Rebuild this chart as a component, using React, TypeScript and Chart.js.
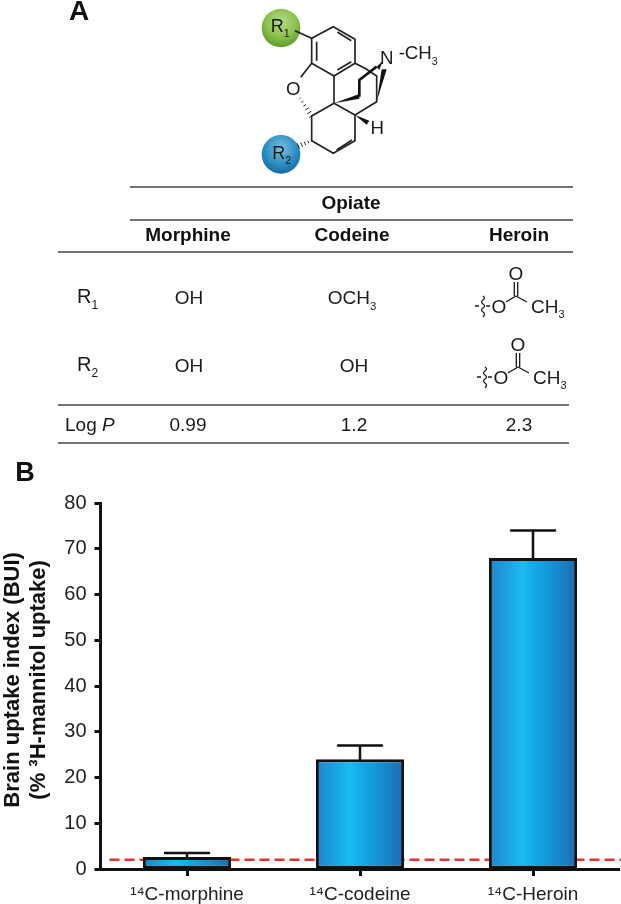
import React, { useEffect, useRef } from "react";
import { Chart, registerables } from "chart.js";

Chart.register(...registerables);

const FONT = '"Liberation Sans", Arial, sans-serif';

const categories = ["¹⁴C-morphine", "¹⁴C-codeine", "¹⁴C-Heroin"];
const uptake = [2.6, 24, 68];
const errorTop = [3.5, 27, 74];
const mannitolBaseline = 2;
const yTitle = ["Brain uptake index (BUI)", "(% ³H-mannitol uptake)"];

const opiates = ["Morphine", "Codeine", "Heroin"];
const logP = ["0.99", "1.2", "2.3"];

function barGradient(c: any) {
  const chart = c.chart;
  const x = chart.scales.x;
  const i = c.dataIndex;
  if (!x || typeof i !== "number") return "#1ab0ea";
  const cx = x.getPixelForValue(i);
  if (!Number.isFinite(cx)) return "#1ab0ea";
  const half = 44;
  const g = chart.ctx.createLinearGradient(cx - half, 0, cx + half, 0);
  g.addColorStop(0, "#1e84ca");
  g.addColorStop(0.38, "#1abbf2");
  g.addColorStop(0.55, "#12a6e4");
  g.addColorStop(1, "#1b6cb2");
  return g;
}

const overlays = {
  id: "overlays",
  beforeDatasetsDraw(chart: any) {
    const { ctx, chartArea, scales } = chart;
    const y = scales.y.getPixelForValue(mannitolBaseline);
    ctx.save();
    ctx.strokeStyle = "#e2352f";
    ctx.lineWidth = 2.5;
    ctx.setLineDash([10, 5]);
    ctx.beginPath();
    ctx.moveTo(chartArea.left + 9, y);
    ctx.lineTo(chartArea.right + 2, y);
    ctx.stroke();
    ctx.restore();
  },
  afterDatasetsDraw(chart: any) {
    const { ctx, scales } = chart;
    ctx.save();
    ctx.strokeStyle = "#111";
    ctx.lineWidth = 2.5;
    ctx.lineCap = "round";
    uptake.forEach((v, i) => {
      const x = scales.x.getPixelForValue(i);
      const y0 = scales.y.getPixelForValue(v);
      const y1 = scales.y.getPixelForValue(errorTop[i]);
      ctx.beginPath();
      ctx.moveTo(x, y0);
      ctx.lineTo(x, y1);
      ctx.moveTo(x - 22, y1);
      ctx.lineTo(x + 22, y1);
      ctx.stroke();
    });
    ctx.restore();
  },
};

function Sub({ x, y, text, sub, size = 19, anchor = "middle" }: any) {
  return (
    <text x={x} y={y} fontSize={size} textAnchor={anchor} fontFamily={FONT} fill="#1a1a1a">
      {text}
      {sub ? (
        <tspan fontSize={size * 0.6} dy={size * 0.3}>
          {sub}
        </tspan>
      ) : null}
    </text>
  );
}

function Acetyl({ dx, dy }: { dx: number; dy: number }) {
  return (
    <g transform={`translate(${dx},${dy})`}>
      <text x={516} y={280} fontSize={19} textAnchor="middle" fontFamily={FONT} fill="#1a1a1a">O</text>
      <text x={499} y={313} fontSize={19} textAnchor="middle" fontFamily={FONT} fill="#1a1a1a">O</text>
      <text x={531} y={313} fontSize={19} fontFamily={FONT} fill="#1a1a1a">
        CH<tspan fontSize={11} dy={5}>3</tspan>
      </text>
      <path d="M514.3 282 V296 M517.7 282 V296 M516 296 L506 302 M516 296 L527 302" stroke="#1a1a1a" strokeWidth={1.3} fill="none" />
      <path d="M475 306 H479 M486 306 H490 M483 296 q3 2 0 4 q-3 2 0 4 q3 2 0 4 q-3 2 0 4 q3 2 0 5" stroke="#1a1a1a" strokeWidth={1.3} fill="none" />
    </g>
  );
}

function Molecule() {
  const hash = (x0: number, y0: number, x1: number, y1: number, n: number) => {
    const out = [];
    for (let i = 0; i < n; i++) {
      const t = i / (n - 1);
      const x = x0 + (x1 - x0) * t;
      const y = y0 + (y1 - y0) * t;
      const w = 2 + t * 7;
      const nx = -(y1 - y0);
      const ny = x1 - x0;
      const l = Math.hypot(nx, ny);
      out.push(
        <line key={i} x1={x - (nx / l) * w} y1={y - (ny / l) * w} x2={x + (nx / l) * w} y2={y + (ny / l) * w} stroke="#222" strokeWidth={3} />
      );
    }
    return out;
  };
  return (
    <svg style={{ position: "absolute", left: 200, top: 0 }} width={260} height={190} viewBox="0 0 780 570">
      <defs>
        <radialGradient id="gr" cx="0.5" cy="0.35" r="0.65">
          <stop offset="0" stopColor="#b7d98c" />
          <stop offset="0.6" stopColor="#8cc04e" />
          <stop offset="1" stopColor="#5c9a2c" />
        </radialGradient>
        <radialGradient id="bl" cx="0.5" cy="0.35" r="0.65">
          <stop offset="0" stopColor="#7fc0e0" />
          <stop offset="0.6" stopColor="#2f8fc4" />
          <stop offset="1" stopColor="#176ca6" />
        </radialGradient>
      </defs>
      <circle cx={243} cy={84} r={58} fill="url(#gr)" />
      <circle cx={243} cy={463} r={58} fill="url(#bl)" />
      <g stroke="#222" strokeWidth={5} fill="none">
        <path d="M285 92 L335 115 L400 80 L465 118 L465 190 L402 228 L335 190 L335 115" />
        <path d="M412 96 L454 122 M454 185 L412 210 M350 125 V182" />
        <path d="M335 190 L302 232 M402 228 V310 L335 348 V422 L400 460 L465 422 V345 L402 310" />
        <path d="M410 450 L456 420" />
        <path d="M465 345 L530 305 V228 L495 205 L465 190" />
      </g>
      <g stroke="#111" strokeWidth={8} fill="none" strokeLinejoin="round">
        <path d="M478 290 V240 L530 200" />
      </g>
      <polygon points="402,310 478,282 478,296" fill="#111" />
      <polygon points="530,200 548,183 538,210" fill="#111" />
      <polygon points="465,345 508,362 500,374" fill="#111" />
      <polygon points="530,305 545,208 560,208" fill="#111" />
      {hash(300, 295, 335, 348, 6)}
      {hash(335, 422, 295, 438, 5)}
      <text x={280} y={286} fontSize={56} textAnchor="middle" fontFamily={FONT} fill="#1a1a1a">O</text>
      <text x={532} y={403} fontSize={56} textAnchor="middle" fontFamily={FONT} fill="#1a1a1a">H</text>
      <text x={560} y={192} fontSize={56} textAnchor="middle" fontFamily={FONT} fill="#1a1a1a">N</text>
      <text x={596} y={178} fontSize={56} fontFamily={FONT} fill="#1a1a1a">
        -CH<tspan fontSize={32} dy={16}>3</tspan>
      </text>
      <text x={212} y={97} fontSize={54} fontFamily={FONT} fill="#1a1a1a">
        R<tspan fontSize={32} dy={14}>1</tspan>
      </text>
      <text x={217} y={477} fontSize={54} fontFamily={FONT} fill="#1a1a1a">
        R<tspan fontSize={32} dy={14}>2</tspan>
      </text>
    </svg>
  );
}

function TableA() {
  const rules = [
    [130, 187, 573],
    [130, 220, 573],
    [58, 252, 573],
    [58, 405, 569],
    [58, 443, 569],
  ];
  const cols = [188, 352, 519];
  return (
    <svg style={{ position: "absolute", left: 0, top: 0 }} width={621} height={490}>
      {rules.map(([a, y, b], i) => (
        <line key={i} x1={a} x2={b} y1={y} y2={y} stroke="#444" strokeWidth={1.4} />
      ))}
      <text x={351} y={209} fontSize={19} fontWeight="bold" textAnchor="middle" fontFamily={FONT} fill="#111">Opiate</text>
      {opiates.map((o, i) => (
        <text key={o} x={cols[i]} y={241} fontSize={19} fontWeight="bold" textAnchor="middle" fontFamily={FONT} fill="#111">{o}</text>
      ))}
      <text x={79} y={20} fontSize={28} fontWeight="bold" fontFamily={FONT} fill="#111" textAnchor="middle">A</text>
      <text x={25} y={481} fontSize={27} fontWeight="bold" fontFamily={FONT} fill="#111" textAnchor="middle">B</text>
      <Sub x={77} y={303} text="R" sub="1" size={20} anchor="start" />
      <Sub x={77} y={371} text="R" sub="2" size={20} anchor="start" />
      <Sub x={189} y={304} text="OH" />
      <Sub x={352} y={304} text="OCH" sub="3" />
      <Sub x={189} y={372} text="OH" />
      <Sub x={354} y={372} text="OH" />
      <text x={65} y={431} fontSize={19} fontFamily={FONT} fill="#1a1a1a">Log <tspan fontStyle="italic">P</tspan></text>
      {logP.map((v, i) => (
        <text key={v} x={[188, 354, 519][i]} y={431} fontSize={19} textAnchor="middle" fontFamily={FONT} fill="#1a1a1a">{v}</text>
      ))}
      <Acetyl dx={0} dy={0} />
      <Acetyl dx={2} dy={71} />
    </svg>
  );
}

export default function App() {
  const ref = useRef<HTMLCanvasElement>(null);
  useEffect(() => {
    const chart = new Chart(ref.current as HTMLCanvasElement, {
      type: "bar",
      data: {
        labels: categories,
        datasets: [
          {
            data: uptake,
            backgroundColor: barGradient,
            borderColor: "#111",
            borderWidth: 3,
            borderSkipped: false,
            barPercentage: 0.51,
            categoryPercentage: 1,
          },
        ],
      },
      options: {
        responsive: false,
        animation: false,
        layout: { padding: { top: 503, right: 1.5, left: 0, bottom: 0 } },
        plugins: { legend: { display: false }, tooltip: { enabled: false } },
        scales: {
          x: {
            afterFit: (a: any) => {
              a.height = 35;
            },
            border: { color: "#111", width: 3 },
            grid: { drawOnChartArea: false, offset: false, tickColor: "#111", tickWidth: 3, tickLength: 7 },
            ticks: { color: "#222", font: { family: FONT, size: 19 }, padding: 7, maxRotation: 0 },
          },
          y: {
            min: 0,
            max: 80,
            afterFit: (a: any) => {
              a.width = 100.5;
            },
            border: { color: "#111", width: 3 },
            grid: { drawOnChartArea: false, tickColor: "#111", tickWidth: 3, tickLength: 6 },
            ticks: { stepSize: 10, color: "#222", font: { family: FONT, size: 20 }, padding: 8 },
            title: {
              display: true,
              text: yTitle.map((t) => "  " + t),
              color: "#111",
              font: { family: FONT, size: 22, weight: "bold", lineHeight: 1.18 },
              padding: { top: 0, bottom: 0 },
            },
          },
        },
      },
      plugins: [overlays],
    } as any);
    return () => chart.destroy();
  }, []);
  return (
    <div style={{ position: "absolute", left: 0, top: 0, width: 621, height: 904, background: "#fff", overflow: "hidden" }}>
      <canvas ref={ref} width={621} height={904} style={{ position: "absolute", left: 0, top: 0 }} />
      <TableA />
      <Molecule />
    </div>
  );
}
